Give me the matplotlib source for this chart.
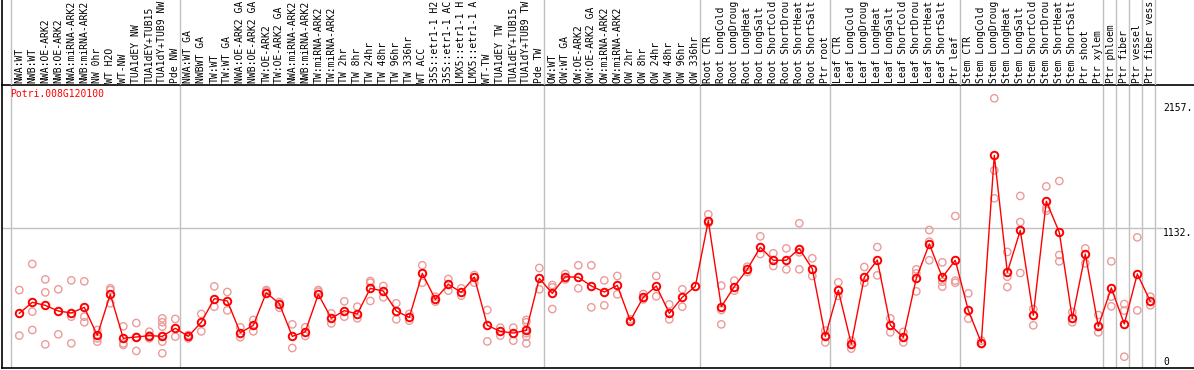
import matplotlib
matplotlib.use("Agg")
import matplotlib.pyplot as plt
import numpy as np

# Nhãn các mẫu (theo thứ tự trên trục X)
labels = [
    "NWA:WT", "NWB:WT", "NWA:OE-ARK2", "NWB:OE-ARK2", "NWA:miRNA-ARK2", "NWB:miRNA-ARK2",
    "NW 0hr", "WT H2O", "WT-NW", "TUA1dEY NW", "TUA1dEY+TUB15", "TUA1dY+TUB9 NW", "Pde NW",
    "NWA:WT GA", "NWBWT GA", "TW:WT", "TW:WT GA", "NWA:OE-ARK2 GA", "NWB:OE-ARK2 GA",
    "TW:OE-ARK2", "TW:OE-ARK2 GA", "NWA:miRNA-ARK2", "NWB:miRNA-ARK2", "TW:miRNA-ARK2",
    "TW:miRNA-ARK2", "TW 2hr", "TW 8hr", "TW 24hr", "TW 48hr", "TW 96hr", "TW 336hr", "WT ACC",
    "35S::etr1-1 H2O", "35S::etr1-1 ACC", "LMX5::etr1-1 H2O", "LMX5::etr1-1 ACC", "WT-TW",
    "TUA1dEY TW", "TUA1dEY+TUB15", "TUA1dY+TUB9 TW", "Pde TW",
    "OW:WT", "OW:WT GA", "OW:OE-ARK2", "OW:OE-ARK2 GA", "OW:miRNA-ARK2", "OW:miRNA-ARK2",
    "OW 2hr", "OW 8hr", "OW 24hr", "OW 48hr", "OW 96hr", "OW 336hr",
    "Root CTR", "Root LongCold", "Root LongDrought", "Root LongHeat", "Root LongSalt",
    "Root ShortCold", "Root ShortDrought", "Root ShortHeat", "Root ShortSalt", "Ptr root",
    "Leaf CTR", "Leaf LongCold", "Leaf LongDrought", "Leaf LongHeat", "Leaf LongSalt",
    "Leaf ShortCold", "Leaf ShortDrought", "Leaf ShortHeat", "Leaf ShortSalt", "Ptr leaf",
    "Stem CTR", "Stem LongCold", "Stem LongDrought", "Stem LongHeat", "Stem LongSalt",
    "Stem ShortCold", "Stem ShortDrought", "Stem ShortHeat", "Stem ShortSalt", "Ptr shoot",
    "Ptr xylem", "Ptr phloem", "Ptr fiber", "Ptr vessel", "Ptr fiber vessel",
]

# Chỉ số mẫu đầu tiên của mỗi nhóm (đường kẻ dọc màu xám)
group_starts = [0, 13, 41, 53, 63, 73, 84, 85, 86, 87, 88]

# Giá trị trung bình
means = [
    438, 528, 503, 457, 441, 487, 258, 593, 234, 245, 256, 250, 316,
    250, 365, 558, 539, 280, 340, 607, 517, 250, 288, 593, 397, 460, 433, 642, 620, 457,
    405, 764, 552, 675, 609, 734, 340, 291, 277, 299, 723,
    601, 737, 732, 661, 612, 666, 378, 569, 661, 438, 569, 658,
    1194, 492, 656, 797, 977, 871, 871, 966, 802, 250,
    626, 188, 732, 873, 343, 242, 724, 1004, 732, 871,
    462, 199, 1727, 773, 1115, 422, 1352, 1099, 397, 922, 332,
    645, 351, 759, 536,
]

# Giá trị từng lần lặp
replicates = [
    [628, 256], [841, 452, 302], [715, 609, 185], [634, 267], [707, 411, 193],
    [699, 411, 365], [302, 234, 207], [642, 628, 520], [332, 193, 180], [359, 131, 245],
    [288, 234, 256], [397, 365, 329, 207, 112, 250], [392, 248],
    [261, 234], [433, 291], [658, 492], [612, 462], [324, 242], [384, 291], [628, 617],
    [530, 484], [348, 155], [324, 253], [628, 615], [438, 356], [536, 411], [492, 397],
    [702, 688, 539], [661, 569], [520, 389], [433, 378], [830, 688], [574, 533],
    [718, 623], [642, 582], [751, 688], [465, 209], [321, 256], [321, 215],
    [384, 365, 302, 275, 248, 193], [808, 634],
    [669, 650, 473], [759, 715], [830, 642], [830, 487], [707, 503], [743, 593],
    [389, 370], [596, 552], [743, 577], [511, 389], [634, 492], [],
    [1246, 1173], [664, 465, 348], [705, 623], [819, 775], [1066, 922], [928, 824],
    [968, 797], [1173, 936, 797], [887, 743], [297, 201],
    [691, 580], [215, 150], [816, 688], [979, 748], [397, 283], [286, 201],
    [797, 764, 617], [1118, 1023, 871], [854, 696, 656], [1232, 705, 688],
    [601, 394], [215, 188], [2193, 1605, 1377], [939, 737, 653], [1396, 1183, 767],
    [473, 340], [1474, 1295, 1276], [1518, 914, 862], [449, 365], [968, 846], [424, 283],
    [862, 574, 495], [514, 460, 84], [1058, 462], [574, 503],
]

tick_values = [2157, 1132, 0]
tick_texts = ["2157.", "1132.", "0"]

# Bố cục theo pixel
W, H = 1194, 370
LEFT_PX, TOP_PX, BOT_PX = 1.5, 85, 368
X0, DX = 19.3, 13.0          # tâm cột đầu tiên, độ rộng mỗi cột
Y0_PX, PX_PER_UNIT = 367, 0.12253
MAX_CHARS = 14               # ô nhãn chỉ chứa được ~14 ký tự

mono = "DejaVu Sans Mono"
fs = 7.0
gray = "#C0C0C0"

fig = plt.figure(figsize=(W / 100, H / 100), dpi=100)
ax = fig.add_axes([LEFT_PX / W, (H - BOT_PX) / H, (W - LEFT_PX) / W, (BOT_PX - TOP_PX) / H])
axh = fig.add_axes([LEFT_PX / W, (H - TOP_PX) / H, (W - LEFT_PX) / W, TOP_PX / H], sharex=ax)
axh.set_facecolor("none")
axh.set_ylim(0, 1)

ax.set_xlim((LEFT_PX - X0) / DX, (W - X0) / DX)
ax.set_ylim((Y0_PX - BOT_PX) / PX_PER_UNIT, (Y0_PX - TOP_PX) / PX_PER_UNIT)

x = np.arange(len(labels))
bounds = np.array(group_starts) - 0.62

# Đường kẻ xám
for b in bounds:
    ax.axvline(b, color=gray, lw=1.0, zorder=1)
    axh.axvline(b, color=gray, lw=1.0, zorder=1)
label_x = (1163 - X0) / DX
ax.hlines(1132, ax.get_xlim()[0], label_x, color=gray, lw=1.0, zorder=1)

# Điểm lặp
rx = [i for i, r in enumerate(replicates) for _ in r]
ry = [v for r in replicates for v in r]
ax.scatter(rx, ry, s=28, facecolors="none", edgecolors="#EC9A9A", linewidths=1.0, zorder=2)

# Đường trung bình
ax.plot(x, means, color="red", lw=1.0, marker="o", ms=5.4, mfc="none", mec="red", mew=1.4, zorder=3)

# Nhãn trục
ax.xaxis.tick_top()
ax.set_xticks(x)
ax.set_xticklabels([l[:MAX_CHARS] for l in labels], rotation=90, fontfamily=mono, fontsize=fs)
ax.tick_params(axis="x", length=0, pad=1.2)
ax.set_yticks([])
plt.setp(axh.get_xticklabels(), visible=False)
axh.tick_params(axis="x", length=0)
axh.set_yticks([])

for v, t in zip(tick_values, tick_texts):
    ax.text(label_x, v, t, fontfamily=mono, fontsize=fs, ha="left",
            va="top" if v > 0 else "bottom", zorder=4)

ax.text((10 - X0) / DX, 2265, "Potri.008G120100", color="red", fontfamily=mono,
        fontsize=fs, ha="left", va="top")

ax.spines["right"].set_visible(False)
for side in ["left", "top", "bottom"]:
    ax.spines[side].set_color("black")
    ax.spines[side].set_linewidth(1.2)
for side in ["right", "top", "bottom"]:
    axh.spines[side].set_visible(False)
axh.spines["left"].set_linewidth(1.2)

fig.savefig("out.png", dpi=100)
